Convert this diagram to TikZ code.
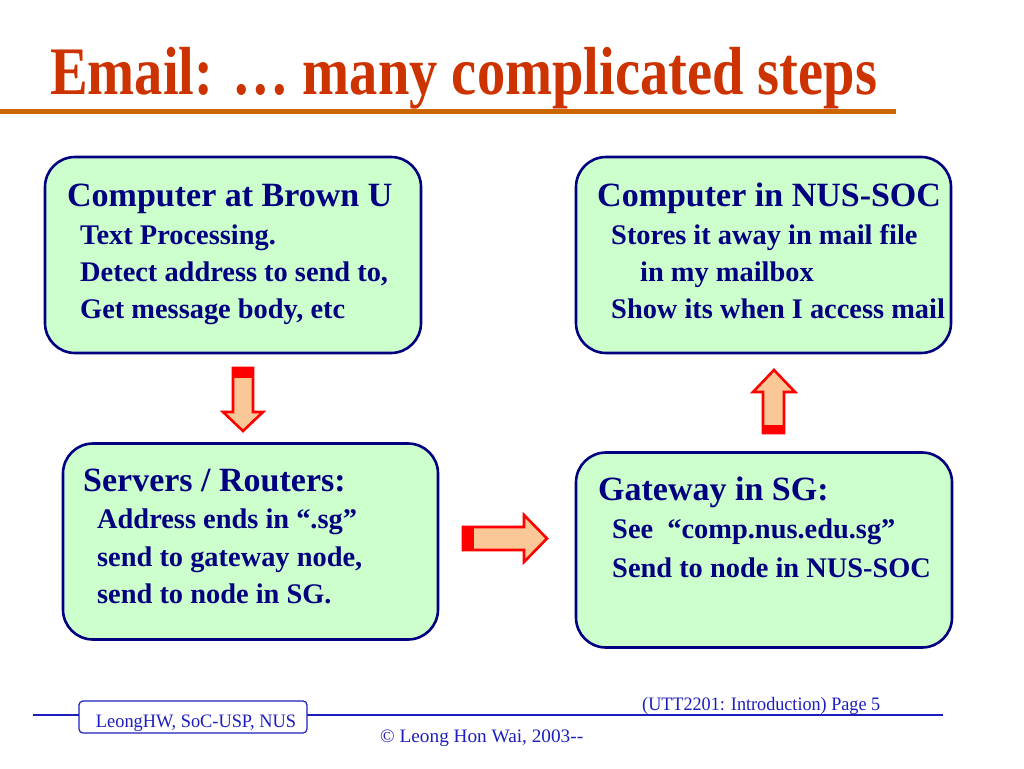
\documentclass[tikz,border=0pt]{standalone}
\usepackage{fontspec}
\usepackage{graphicx}
\setmainfont{Liberation Serif}
\definecolor{titlered}{RGB}{204,51,0}
\definecolor{ruleorange}{RGB}{204,102,0}
\definecolor{boxfill}{RGB}{204,255,204}
\definecolor{boxline}{RGB}{0,0,128}
\definecolor{boxtext}{RGB}{0,0,128}
\definecolor{peach}{RGB}{250,200,150}
\definecolor{footblue}{RGB}{30,30,190}
\tikzset{
  greenbox/.style={draw=boxline, line width=2.6pt, fill=boxfill, rounded corners=30pt,
    rectangle, inner sep=0pt},
  boxhead/.style={anchor=base west, inner sep=0pt, text=boxtext,
    font=\fontsize{34}{34}\selectfont\bfseries},
  boxline/.style={anchor=base west, inner sep=0pt, text=boxtext,
    font=\fontsize{28.4}{28.4}\selectfont\bfseries},
  blockarrow/.style={draw=red, line width=2.6pt, fill=peach, line join=miter},
  arrowtail/.style={fill=red, draw=red, line width=0.5pt},
  foottext/.style={inner sep=0pt, text=footblue, font=\fontsize{19}{19}\selectfont},
}
\begin{document}
\begin{tikzpicture}[x=1pt,y=-1pt]
\useasboundingbox (0,0) rectangle (1024,768);
\fill[white] (0,0) rectangle (1024,768);
% title
\node[anchor=base west, inner sep=0pt, text=titlered] (title) at (50,94)
  {\resizebox{827pt}{\height}{\fontsize{68}{68}\selectfont\bfseries Email: … many complicated steps}};
\draw[ruleorange, line width=5pt] (0,111) -- (896,111);
% boxes
\node[greenbox, minimum width=376pt, minimum height=196pt] (b1) at (233,255) {};
\node[greenbox, minimum width=375pt, minimum height=196pt] (b2) at (763.5,255) {};
\node[greenbox, minimum width=375pt, minimum height=196pt] (b3) at (250.5,541.5) {};
\node[greenbox, minimum width=376pt, minimum height=195pt] (b4) at (764,550) {};
% box 1 text
\node[boxhead] (b1h) at (67,206) {Computer at Brown U};
\node[boxline] (b1a) at (80,244) {Text Processing.};
\node[boxline] (b1b) at (80,281) {Detect address to send to,};
\node[boxline] (b1c) at (80,318) {Get message body, etc};
% box 2 text
\node[boxhead] (b2h) at (597,206) {Computer in NUS-SOC};
\node[boxline] (b2a) at (611,244) {Stores it away in mail file};
\node[boxline] (b2b) at (640,281) {in my mailbox};
\node[boxline] (b2c) at (611,318) {Show its when I access mail};
% box 3 text
\node[boxhead] (b3h) at (83,491) {Servers / Routers:};
\node[boxline] (b3a) at (97,528) {Address ends in “.sg”};
\node[boxline] (b3b) at (97,566) {send to gateway node,};
\node[boxline] (b3c) at (97,603) {send to node in SG.};
% box 4 text
\node[boxhead] (b4h) at (598,500) {Gateway in SG:};
\node[boxline] (b4a) at (612,538) {See\ \ “comp.nus.edu.sg”};
\node[boxline] (b4b) at (612,577) {Send to node in NUS-SOC};
% down arrow (box 1 -> box 3)
\draw[blockarrow] (233,368) -- (253,368) -- (253,412) -- (263,412) -- (243,431) -- (223,412) -- (233,412) -- cycle;
\filldraw[arrowtail] (233,368) rectangle (253,377);
% right arrow (box 3 -> box 4)
\draw[blockarrow] (463,527) -- (524,527) -- (524,515) -- (547,538.5) -- (524,562) -- (524,550) -- (463,550) -- cycle;
\filldraw[arrowtail] (463,527) rectangle (473,550);
% up arrow (box 4 -> box 2)
\draw[blockarrow] (763,433) -- (763,392) -- (753,392) -- (774,370) -- (795,392) -- (784,392) -- (784,433) -- cycle;
\filldraw[arrowtail] (763,425) rectangle (784,433);
% footer
\draw[footblue, line width=1.5pt] (33,715) -- (943,715);
\node[draw=footblue, line width=1.2pt, fill=white, rounded corners=4pt, rectangle,
  minimum width=228pt, minimum height=32pt, inner sep=0pt] (fbox) at (193,717) {};
\node[foottext, anchor=base] (ftxt) at (196,727) {\resizebox{200pt}{\height}{LeongHW, SoC-USP, NUS}};
\node[foottext, anchor=base west] (fpage) at (642,710) {\resizebox{238pt}{\height}{(UTT2201: Introduction) Page 5}};
\node[foottext, anchor=base west] (fcopy) at (380,742) {\resizebox{203pt}{\height}{© Leong Hon Wai, 2003-{}-}};
\end{tikzpicture}
\end{document}
